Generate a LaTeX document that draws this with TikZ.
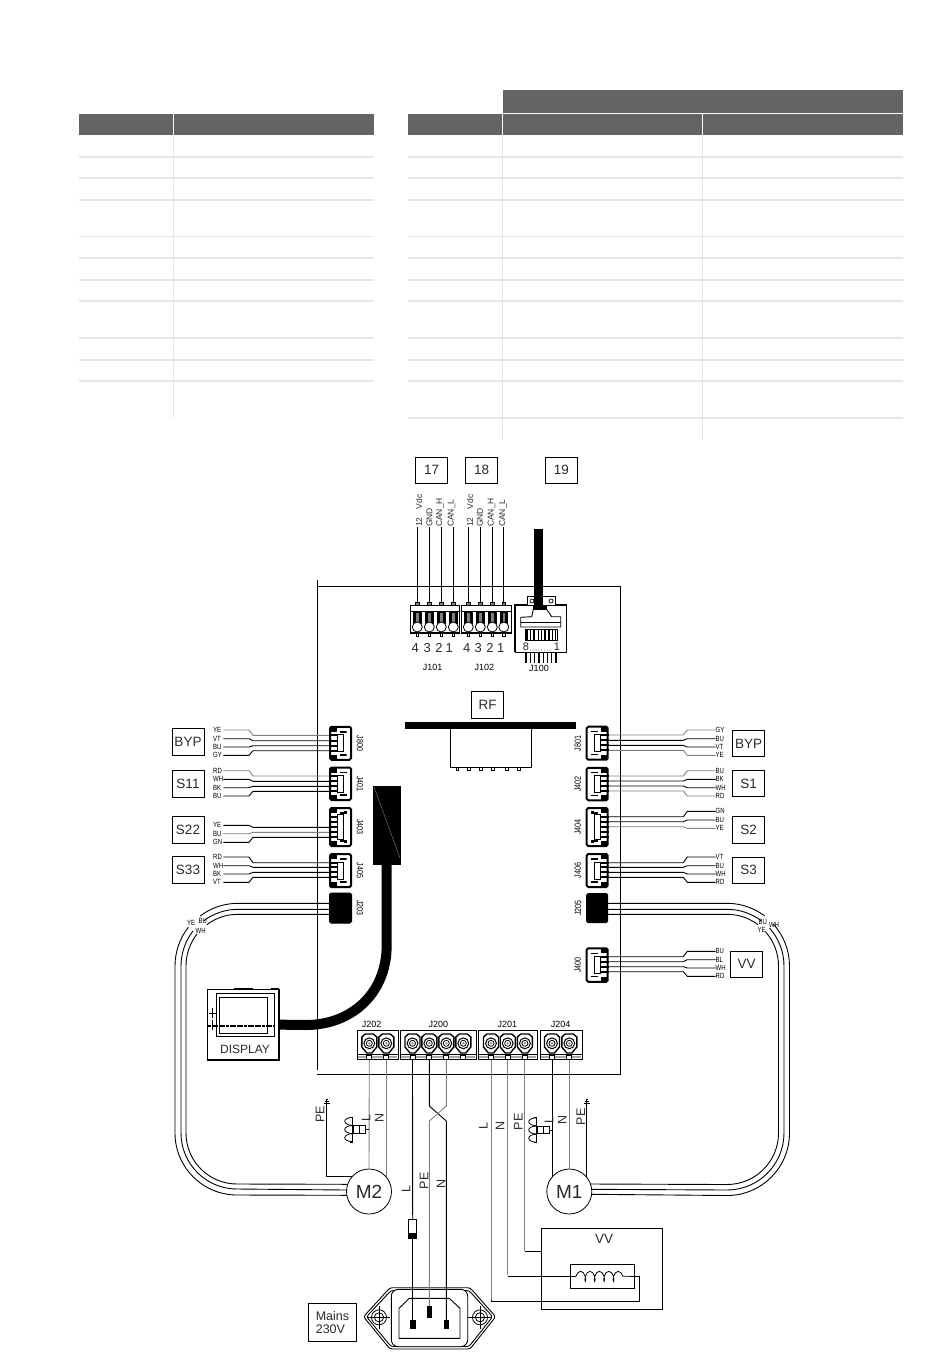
\documentclass[tikz,border=0pt]{standalone}
\usepackage{fontspec}
\usepackage{graphicx}
\setmainfont{Liberation Sans}
\usetikzlibrary{calc,decorations.pathmorphing}
\definecolor{hdr}{HTML}{656363}
\definecolor{rulec}{HTML}{E6E6E6}
\definecolor{txt}{HTML}{2A2A2A}
\definecolor{gw}{HTML}{808080}
\newcommand{\fsz}[1]{\fontsize{#1}{#1}\selectfont}
\newcommand{\nar}[1]{\scalebox{.8}[1]{#1}}
\tikzset{
  hrule/.style={draw=rulec,line width=1.5pt},
  w/.style={line width=.9pt,draw=black},
  wg/.style={line width=.9pt,draw=gw},
  lbl/.style={inner sep=0pt,text=black,font=\fsz{7.5}},
  jlab/.style={inner sep=0pt,text=black,font=\fsz{9}},
  pinlab/.style={inner sep=0pt,text=txt,font=\fsz{8.5}},
  biglab/.style={inner sep=0pt,text=txt,font=\fsz{13}},
  boxn/.style={draw=black,line width=.8pt,inner sep=0pt,text=txt,font=\fsz{13.5}},
  jst/.style={draw=black,line width=2pt,rounded corners=1.5pt,fill=white,inner sep=0pt,minimum width=21pt},
  stub/.style={line width=1.7pt,draw=black},
  motor/.style={circle,draw=black,line width=.8pt,inner sep=0pt,minimum size=45pt,text=txt,font=\fsz{19},fill=white},
  plugpin/.style={draw=black,fill=black,line width=.4pt,inner sep=0pt,minimum width=4.6pt,minimum height=8pt},
}
% connector: name, cx, cy, height, label, side (1 left,-1 right), ladder half height
\newcommand{\jstconn}[7]{
  \node[jst,minimum height=#4 pt] (#1) at (#2,#3) {};
  \begin{scope}[shift={(#1.center)},xscale=#6]
    \draw[line width=1.4pt] (-1,{-#4/2+5}) -- (6,{-#4/2+5}) -- (6,{-#7-3}) -- (3,{-#7-3});
    \draw[line width=1.4pt] (-1,{#4/2-5}) -- (6,{#4/2-5}) -- (6,{#7+3}) -- (3,{#7+3});
    \fill[black] (-10,{-#4/2}) rectangle (-4,{-#4/2+5});
    \fill[black] (-10,{#4/2-5}) rectangle (-4,{#4/2});
    \draw[line width=.9pt,fill=white] (-3,-#7) rectangle (3,#7);
  \end{scope}
  \node[jlab,rotate={-90*#6}] at ($(#1.center)+({19.5*#6},0)$) {\nar{#5}};
}
\newcommand{\wireL}[6]{ % conn, idx, text, ylabel, ywire, style
  \node[lbl,anchor=west,text width=10pt,align=left] (#1-l#2) at (213,#4) {\nar{#3}};
  \draw[#6] (#1-l#2.east) -- (249,#4) -- (253,#5) -- (#1.west |- 0,#5);
  \draw[stub] (#1.west |- 0,#5) -- +(8,0);
}
\newcommand{\wireR}[6]{
  \node[lbl,anchor=west] (#1-l#2) at (715.5,#4) {\nar{#3}};
  \draw[#6] (#1-l#2.west) -- (687.3,#4) -- (683.3,#5) -- (#1.east |- 0,#5);
  \draw[stub] (#1.east |- 0,#5) -- +(-8,0);
}
% bottom screw terminal: name x1 x2 labelx list
\newcommand{\term}[5]{
  \node[jlab] (#1-t) at (#4,1024) {#1};
  \draw[line width=1pt,draw=black] (#2,1030) rectangle (#3,1059.3);
  \draw[line width=2.2pt,draw=gw!70] (#2+1,1057) -- (#3-1,1057);
  \draw[line width=1.2pt] (#2,1054.5) -- (#3,1054.5);
  \foreach \i/\xx in {#5}{
    \draw[line width=1.4pt,fill=white] (\xx-7.5,1037) -- (\xx-4,1034) -- (\xx+4,1034) -- (\xx+7.5,1037) -- (\xx+7.5,1047) -- (\xx+2.5,1053) -- (\xx-2.5,1053) -- (\xx-7.5,1047) -- cycle;
    \draw[line width=1pt,fill=white] (\xx,1043.3) circle[radius=5.4pt];
    \draw[line width=.8pt,fill=white] (\xx,1043.3) circle[radius=3pt];
    \fill[gw] (\xx,1043.3) circle[radius=1.2pt];
    \draw[line width=.8pt,fill=white] (\xx-2.5,1055) rectangle (\xx+2.5,1059.8);
    \coordinate (#1-\i) at (\xx,1059.8);
  }
}
% top terminal block
\newcommand{\topterm}[5]{
  \node[jlab] (#1-t) at (#4,667.7) {#1};
  \draw[line width=1pt] (#2,605) rectangle (#3,633);
  \draw[line width=.8pt] (#2,611.5) -- (#3,611.5);
  \draw[line width=1.6pt] (#2,632.5) -- (#3,632.5);
  \foreach \i/\xx in {#5}{
    \draw[line width=.7pt,fill=gw] (\xx-1.6,602) rectangle (\xx+1.6,605);
    \fill[black] (\xx-4.2,611.5) rectangle (\xx+4.2,624);
    \fill[gw] (\xx-1.2,612.5) rectangle (\xx+1.2,623);
    \draw[line width=.8pt,fill=white] (\xx,627) circle[radius=5pt];
    \draw[line width=.7pt,fill=white] (\xx-1.4,633) rectangle (\xx+1.4,636);
    \coordinate (#1-\i) at (\xx,602);
  }
}
\newcommand{\gnd}[2]{ % x y
  \draw[line width=.7pt] (#1-3,#2) -- (#1+3,#2) (#1-2,#2-2) -- (#1+2,#2-2) (#1-1,#2-4) -- (#1+1,#2-4) (#1,#2) -- (#1,#2-4);
}
\newcommand{\choke}[3]{ % x of back line, y centre, x of wire
  \draw[line width=.9pt] (#1,#2-12.5) -- (#1,#2+12.5);
  \draw[line width=.9pt] (#1-3,#2-12.5) -- (#1,#2-12.5) (#1-3,#2+12.5) -- (#1,#2+12.5);
  \foreach \dy in {-8.2,0,8.2}{
    \draw[line width=.8pt] (#1,#2+\dy-4) arc[start angle=90,end angle=270,x radius=8pt,y radius=4pt];
  }
  \draw[line width=.9pt,fill=white] (#1+1,#2-3.8) rectangle (#1+13,#2+3.8);
  \draw[line width=.9pt] (#1+7,#2-3.8) -- (#1+7,#2+3.8);
  \draw[line width=.9pt] (#1+13,#2) -- (#3,#2);
}
\begin{document}
\begin{tikzpicture}[x=1pt,y=-1pt]
\useasboundingbox (0,0) rectangle (950,1360);

% ---------- tables ----------
\fill[hdr] (502.7,90) rectangle (903,113.2);
\fill[hdr] (79,114) rectangle (173,135);
\fill[hdr] (173.8,114) rectangle (373.7,135);
\fill[hdr] (408,114) rectangle (502,135);
\fill[hdr] (502.8,114) rectangle (702,135);
\fill[hdr] (702.8,114) rectangle (903,135);
\foreach \yy in {157,178,200,236.7,258,280,301,338,360,381}{
  \draw[hrule] (79,\yy) -- (373.7,\yy);
  \draw[hrule] (408,\yy) -- (903,\yy);
}
\draw[hrule] (408,418) -- (903,418);
\draw[hrule] (173.4,135) -- (173.4,417.5);
\draw[hrule] (502.4,135) -- (502.4,439.5);
\draw[hrule] (702.4,135) -- (702.4,439.5);

% ---------- board ----------
\draw[line width=.9pt] (317.3,580) -- (317.3,1070);
\draw[line width=.9pt] (317.3,586.7) -- (620.7,586.7) -- (620.7,1074.3) -- (317.3,1074.3);

% ---------- top boxes ----------
\node[boxn,minimum width=32pt,minimum height=26pt] (b17) at (431.7,470.3) {17};
\node[boxn,minimum width=32pt,minimum height=26pt] (b18) at (481.7,470.3) {18};
\node[boxn,minimum width=32pt,minimum height=26pt] (b19) at (561.3,470.3) {19};

\topterm{J101}{410}{459.3}{432.7}{1/417.3,2/429.3,3/441.3,4/453.3}
\topterm{J102}{461.7}{511.7}{484.3}{1/468.3,2/480.3,3/492.3,4/503.8}

\foreach \nm/\i/\xx/\t in {J101/1/419/12\hspace{8pt}Vdc,J101/2/429.5/GND,J101/3/440/CAN\_H,J101/4/451.5/CAN\_L,J102/1/470/12\hspace{8pt}Vdc,J102/2/480/GND,J102/3/491.5/CAN\_H,J102/4/503/CAN\_L}{
  \node[pinlab,rotate=90,anchor=west] (\nm-p\i) at (\xx,527) {\t};
  \draw[w] (\nm-p\i.west -| \nm-\i) -- (\nm-\i);
}
\foreach \xx/\t in {415.3/4,427.3/3,439/2,449.3/1,466.7/4,478.3/3,490/2,500.7/1}{
  \node[biglab] at (\xx,647.7) {\t};
}

% RJ45
\coordinate (cabtop) at (538.7,529.3);
\node[draw=black,line width=.9pt,inner sep=0pt,minimum width=51.7pt,minimum height=47.3pt,fill=white] (J100) at (540.8,628.7) {};
\draw[line width=1.8pt] (515,652.3) -- (515,605) -- (566.7,605);
\draw[line width=.9pt,fill=white] (527.3,605) -- (527.3,596.7) -- (555.7,596.7) -- (555.7,605);
\draw[line width=.7pt] (532,601) circle[radius=2pt] (551,601) circle[radius=2pt];
\draw[line width=.9pt] (533.3,609.3) -- (546.7,609.3) -- (551.7,616.7) -- (560.7,616.7) -- (560.7,627) -- (520.7,627) -- (520.7,617.3) -- (531.7,616.7) -- cycle;
\draw[line width=.7pt] (520.7,622) -- (560.7,622);
\draw[line width=.8pt] (525,629) rectangle (557.3,640);
\foreach \xx in {527,530.5,534,538.5,541.5,545,549,552.5,555.5}{\draw[line width=1.4pt] (\xx,629.5) -- (\xx,640);}
\draw[line width=8.7pt] (cabtop) -- (538.7,606.7);
\fill (533.3,605.5) rectangle (547,610);
\node[inner sep=0pt,text=txt,font=\fsz{11}] at (526,646.5) {8};
\node[inner sep=0pt,text=txt,font=\fsz{11}] at (557,646.5) {1};
\foreach \xx in {530.5,533.3,536.1,538.9,541.7,544.5,547.3,550.1}{\fill (\xx,650) circle[radius=.45pt];}
\foreach \xx in {526,530.3,534.6,538.9,543.2,547.5,551.8,556}{\draw[line width=1.3pt] (\xx,652.3) -- (\xx,663.3);}
\node[jlab] (J100-t) at (539,668.7) {J100};

% RF
\node[boxn,minimum width=31.6pt,minimum height=26.6pt] (rfbox) at (487.5,705) {RF\hspace{9pt}};
\fill[black] (405,722.3) rectangle (575.7,728.7);
\draw[line width=.9pt] (450.3,728.7) rectangle (531.3,767.3);
\foreach \xx in {457.3,469,481,493,507,518.7}{\draw[line width=.7pt] (\xx-1.2,767.3) rectangle (\xx+1.2,770.5);}

% ---------- left connectors ----------
\jstconn{J800}{340.5}{743.3}{33}{J800}{1}{8.5}
\jstconn{J401}{340.5}{783.8}{32.5}{J401}{1}{8.5}
\jstconn{J403}{340.5}{827}{38}{J403}{1}{12.5}
\jstconn{J405}{340.5}{870.6}{33}{J405}{1}{8.5}
\node[fill=black,draw=black,line width=1pt,rounded corners=1.5pt,inner sep=0pt,minimum width=22pt,minimum height=30pt] (J203) at (340.5,908) {};
\node[jlab,rotate=-90] at (360,908) {\nar{J203}};

\wireL{J800}{1}{YE}{730}{735.3}{wg}
\wireL{J800}{2}{VT}{738.7}{740.7}{w}
\wireL{J800}{3}{BU}{747}{745.7}{w}
\wireL{J800}{4}{GY}{755.3}{750.7}{w}
\wireL{J401}{1}{RD}{770.7}{776}{wg}
\wireL{J401}{2}{WH}{779.3}{781.3}{w}
\wireL{J401}{3}{BK}{787.7}{786.3}{w}
\wireL{J401}{4}{BU}{796}{791.3}{w}
\wireL{J403}{1}{YE}{825.3}{827.3}{w}
\wireL{J403}{2}{BU}{833.7}{832.3}{wg}
\wireL{J403}{3}{GN}{842.3}{837.3}{w}
\draw[stub] (J403.west |- 0,817.3) -- +(8,0);
\draw[stub] (J403.west |- 0,822.3) -- +(8,0);
\wireL{J405}{1}{RD}{857}{862.7}{w}
\wireL{J405}{2}{WH}{865.7}{867.3}{w}
\wireL{J405}{3}{BK}{874}{872.3}{w}
\wireL{J405}{4}{VT}{882.3}{877.3}{w}

\node[boxn,minimum width=32pt,minimum height=27pt] (bypL) at (188,741.5) {BYP};
\node[boxn,minimum width=32pt,minimum height=27pt] (s11) at (188,783.5) {S11};
\node[boxn,minimum width=32pt,minimum height=26.5pt] (s22) at (188,830) {S22};
\node[boxn,minimum width=32pt,minimum height=26.5pt] (s33) at (188,870) {S33};

% ---------- right connectors ----------
\jstconn{J801}{597.2}{743.2}{33}{J801}{-1}{8.5}
\jstconn{J402}{597.2}{784}{32.5}{J402}{-1}{8.5}
\jstconn{J404}{597.2}{827}{38}{J404}{-1}{12.5}
\jstconn{J406}{597.2}{870.5}{33}{J406}{-1}{8.5}
\jstconn{J400}{597.2}{965}{33.5}{J400}{-1}{8.5}
\node[fill=black,draw=black,line width=1pt,rounded corners=1.5pt,inner sep=0pt,minimum width=21pt,minimum height=29pt] (J205) at (597.2,908) {};
\node[jlab,rotate=90] at (578,908) {\nar{J205}};

\wireR{J801}{1}{GY}{730}{735}{wg}
\wireR{J801}{2}{BU}{738.7}{740.3}{w}
\wireR{J801}{3}{VT}{747}{745.3}{w}
\wireR{J801}{4}{YE}{755.3}{750.3}{wg}
\wireR{J402}{1}{BU}{770.7}{776}{wg}
\wireR{J402}{2}{BK}{779.3}{781}{w}
\wireR{J402}{3}{WH}{787.7}{786}{w}
\wireR{J402}{4}{RD}{796}{791}{wg}
\wireR{J404}{1}{GN}{811.3}{816.7}{w}
\wireR{J404}{2}{BU}{820}{821.7}{w}
\wireR{J404}{3}{YE}{828.3}{826.7}{wg}
\draw[stub] (J404.east |- 0,831.7) -- +(-8,0);
\draw[stub] (J404.east |- 0,836.7) -- +(-8,0);
\wireR{J406}{1}{VT}{857}{862.7}{w}
\wireR{J406}{2}{BU}{865.7}{867.3}{w}
\wireR{J406}{3}{WH}{874}{872.3}{w}
\wireR{J406}{4}{RD}{882.3}{877.3}{w}
\wireR{J400}{1}{BU}{951.3}{956.7}{w}
\wireR{J400}{2}{BL}{959.7}{961.7}{w}
\wireR{J400}{3}{WH}{968}{966.7}{w}
\wireR{J400}{4}{RD}{976.3}{971.7}{w}

\node[boxn,minimum width=32.4pt,minimum height=25.6pt] (bypR) at (748.5,743.5) {BYP};
\node[boxn,minimum width=32.4pt,minimum height=26.4pt] (s1) at (748.5,783.5) {S1};
\node[boxn,minimum width=32.4pt,minimum height=26.6pt] (s2) at (748.5,830) {S2};
\node[boxn,minimum width=32.4pt,minimum height=26pt] (s3) at (748.5,870.3) {S3};
\node[boxn,minimum width=32.4pt,minimum height=26pt] (vvR) at (746.5,964.3) {VV};

% ---------- display and cable ----------
\node[fill=black,draw=black,inner sep=0pt,minimum width=26.7pt,minimum height=78pt] (block) at (386.7,825.3) {};
\draw[gw,line width=.4pt] (374,787) -- (400,858);
\node[draw=black,line width=1.6pt,fill=white,inner sep=0pt,minimum width=71.4pt,minimum height=70.7pt] (display) at (243,1024.65) {};
\draw[line width=10pt] (block.south) -- (386.7,945) .. controls (386.7,995) and (350,1025) .. (306,1025) -- (display.east);
\draw[line width=.9pt] (216,993.3) rectangle (274.7,1036);
\draw[line width=.9pt] (219.3,997) rectangle (267.7,1033.3);
\draw[line width=1.6pt,dash pattern=on 3pt off .6pt] (208,1025.7) -- (274.7,1025.7);
\draw[line width=.9pt] (212.3,1008) -- (212.3,1018) (209,1013.3) -- (216,1013.3) (212.3,1020) -- (212.3,1030);
\draw[line width=.9pt] (234,989.3) -- (234,988) -- (252,988) -- (252,989.3);
\draw[line width=.9pt] (271,989.3) -- (271,988) -- (278,988) -- (278,989.3);
\node[inner sep=0pt,text=txt,font=\fsz{12}] at (245,1049.3) {DISPLAY};

% ---------- bottom terminals ----------
\term{J202}{357.3}{398.3}{371.7}{1/369.3,2/386.3}
\term{J200}{400}{476}{438.3}{1/412.5,2/429.3,3/446.3,4/463.3}
\term{J201}{478.3}{537.3}{507.3}{1/491,2/507.7,3/524.9}
\term{J204}{540.3}{582}{560.7}{1/552,2/569.3}

% ---------- motors ----------
\node[motor] (M2) at (369,1191.5) {M2};
\node[motor] (M1) at (569.3,1191.5) {M1};

\draw[wg] (J202-1) -- (M2.north);
\draw[wg] (J202-2) -- ($(M2.center)+(17.3,-14.4)$);
\draw[w] (J204-1) -- ($(M1.center)+(-17.3,-14.4)$);
\draw[wg] (J204-2) -- (M1.north);
\coordinate (gndL) at (326.7,1103);
\coordinate (gndR) at (586.7,1103);
\draw[w] (gndL) -- (326.7,1176.7) -- ($(M2.center)+(-17.2,-14.8)$);
\draw[w] (gndR) -- ($(M1.center)+(17.4,-14.3)$);
\gnd{326.7}{1103}
\gnd{586.7}{1103}
\choke{352.7}{1129.5}{369.3}
\choke{536.7}{1130}{552}

\foreach \xx/\yy/\t in {366/1117.7/L,379.3/1117.7/N,483.3/1125.7/L,500/1125.7/N,518.3/1121.7/PE,549/1120/L,562.3/1120/N,580.7/1116.7/PE,406/1189/L,424/1180.7/PE,441/1184.3/N,320/1114.3/PE}{
  \node[inner sep=0pt,text=txt,font=\fsz{12.5},rotate=90] at (\xx,\yy) {\t};
}

% ---------- 3-wire cables ----------
\foreach \r/\yt/\dyb in {63/903.3/3.8,57/909.3/-1.5,52/914.3/-7.2}{
  \pgfmathsetmacro{\rr}{\r-1}
  \draw[w] (J203.west |- 0,\yt) -- (238,\yt) arc[start angle=90,end angle=127,radius=\r pt];
  \draw[stub] (J203.west |- 0,\yt) -- +(4,0);
  \draw[w] (238,966) ++(142:\r pt) arc[start angle=142,end angle=180,radius=\r pt] -- ({238-\r},1133) arc[start angle=180,end angle=270,radius=\rr pt] -- ($(M2.center)+({-sqrt(506-(\dyb)*(\dyb))},\dyb)$);
}
\foreach \r/\yt/\dyb in {62.5/903.3/2.8,57/909.3/-2.2,51.5/914.3/-7.5}{
  \draw[w] (J205.east |- 0,\yt) -- (727,\yt) arc[start angle=90,end angle=53,radius=\r pt];
  \draw[stub] (J205.east |- 0,\yt) -- +(-4,0);
  \draw[w] (727,966) ++(42:\r pt) arc[start angle=42,end angle=0,radius=\r pt] -- ({727+\r},1133) arc[start angle=0,end angle=-90,radius=\r pt] -- ($(M1.center)+({sqrt(506-(\dyb)*(\dyb))},\dyb)$);
}
\foreach \xx/\yy/\t in {191/923/YE,202.7/920.7/BU,200.7/931/WH,762.7/922.3/BU,774/925/WH,761.7/930/YE}{
  \node[lbl] at (\xx,\yy) {\nar{\t}};
}

% ---------- mains plug ----------
\draw[line width=.9pt,rounded corners=2.5pt] (363.5,1316.7) -- (390,1287.7) -- (470,1287.7) -- (495.7,1316.7) -- (470,1349) -- (390,1349) -- cycle;
\draw[line width=.9pt,rounded corners=2.5pt] (366.5,1316.7) -- (391,1290.5) -- (469,1290.5) -- (492.7,1316.7) -- (469,1346.5) -- (391,1346.5) -- cycle;
\draw[line width=.9pt,fill=white,rounded corners=7pt] (391.3,1289.3) rectangle (467.7,1346.7);
\draw[line width=.9pt] (399,1308.3) -- (409.3,1298.3) -- (449.3,1298.3) -- (460,1308.3) -- (460,1338.3) -- (399,1338.3) -- cycle;
\foreach \xx in {379,480}{
  \draw[line width=.8pt] (\xx,1317.3) circle[radius=7.5pt] (\xx,1317.3) circle[radius=4.6pt];
  \draw[line width=.7pt] (\xx-12,1317.3) -- (\xx+11,1317.3) (\xx,1306) -- (\xx,1329);
}
\node[plugpin] (pinL) at (412.7,1324.3) {};
\node[plugpin,minimum height=11pt] (pinPE) at (429.3,1311.5) {};
\node[plugpin] (pinN) at (446.3,1324.3) {};
\node[boxn,font=\fsz{12.5},align=left,minimum width=48.4pt,minimum height=38.4pt] (mains) at (332.5,1322.5) {Mains\\[1pt]230V};

% fuse
\node[draw=black,line width=.8pt,fill=white,inner sep=0pt,minimum width=8pt,minimum height=19.4pt] (fuse) at (412.7,1229) {};
\fill[black] (408.7,1233.3) rectangle (416.7,1238.7);

% mains wires
\draw[w] (J200-1) -- (fuse.north);
\draw[w] (fuse.south) -- (pinL.north);
\draw[w] (J200-2) -- (429.3,1106) -- (446.3,1121) -- (pinN.north);
\draw[wg] (J200-3) -- (446.3,1106) -- (429.3,1121) -- (pinPE.north);

% ---------- VV box ----------
\node[draw=black,line width=.9pt,inner sep=0pt,minimum width=121pt,minimum height=81pt] (vvbox) at (601.8,1268.8) {};
\node[inner sep=0pt,text=txt,font=\fsz{13.5}] (vvtxt) at (604,1239.3) {VV};
\node[draw=black,line width=.9pt,inner sep=0pt,minimum width=64pt,minimum height=24pt,fill=white] (coilbox) at (602.3,1276.3) {};
\coordinate (coilA) at (576,1276.3);
\coordinate (coilB) at (630,1276.3);
\draw[line width=.8pt,decorate,decoration={coil,aspect=.45,segment length=9.4pt,amplitude=5pt}] (coilA) -- (coilB);
\draw[wg] (J201-1) -- (491,1300);
\draw[w] (491,1300) -- (491,1301) -- (639.3,1301) -- (639.3,1276.3) -- (coilB);
\draw[wg] (J201-2) -- (507.7,1275);
\draw[w] (507.7,1276.3) -- (coilA);
\draw[wg] (J201-3) -- (524.9,1251);
\draw[w] (524.9,1251.7) -- (vvbox.west |- 0,1251.7);
\end{tikzpicture}
\end{document}
